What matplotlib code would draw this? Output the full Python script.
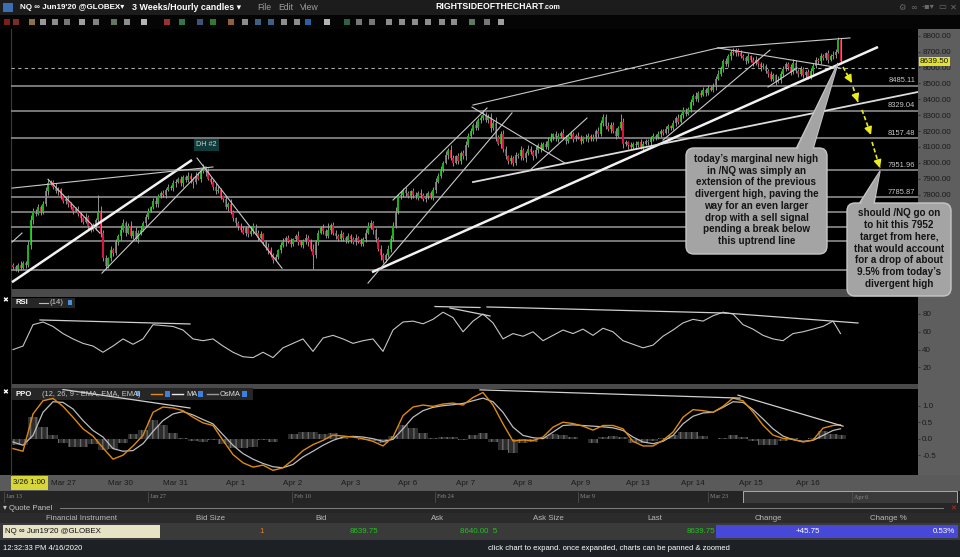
import numpy as np
import matplotlib.pyplot as plt
from matplotlib.patches import Rectangle, FancyBboxPatch, Polygon

plt.rcParams['font.family'] = ['Liberation Sans', 'DejaVu Sans']

# hourly NQ candles, 3/26 1:00 -> 4/16 noon (closes)
closes = [
    7345, 7330, 7360, 7340, 7370, 7355, 7480, 7640,
    7700, 7680, 7720, 7690, 7740, 7820, 7870, 7880,
    7850, 7820, 7835, 7790, 7760, 7775, 7740, 7720, 7700, 7710, 7680, 7650, 7630, 7660, 7600, 7580,
    7600, 7640, 7690, 7560, 7400, 7350,
    7400, 7450, 7430, 7500, 7540, 7580, 7620, 7560, 7600,
    7540, 7570, 7520, 7560, 7580, 7620, 7660, 7700,
    7720, 7760, 7740, 7790, 7810, 7800, 7830, 7850, 7840, 7870,
    7880, 7900, 7870, 7910, 7890, 7920, 7900, 7880,
    7920, 7900, 7950, 7970, 7940, 7900,
    7880, 7850, 7820, 7830, 7790, 7770, 7720, 7740, 7690, 7650, 7620, 7600, 7580,
    7560, 7590, 7550, 7570, 7600, 7560, 7530, 7550, 7500, 7470, 7450,
    7420, 7390, 7410, 7450,
    7480, 7500, 7530, 7510, 7490, 7520, 7540, 7500, 7480, 7510, 7530, 7500, 7460,
    7420,
    7500, 7560, 7590, 7570, 7540, 7580, 7610, 7560,
    7540, 7520, 7550, 7530, 7510, 7540, 7520, 7500, 7530, 7510, 7490, 7520, 7560, 7600,
    7620, 7580, 7520, 7460, 7420, 7390, 7420, 7460,
    7520, 7600, 7700, 7790,
    7800, 7830, 7810, 7790, 7820, 7800, 7780, 7810, 7800, 7770, 7790, 7810, 7780,
    7830, 7880, 7920, 7960, 8000, 8050, 8080,
    8030, 8000, 8040, 8010, 8060, 8040, 8110, 8170,
    8200, 8240, 8220, 8270, 8280, 8300, 8270, 8290,
    8220, 8250, 8160, 8120, 8180, 8090, 8040, 8010, 8030, 8000,
    8050, 8040, 8080, 8030, 8060, 8090, 8070, 8040, 8080, 8110, 8090, 8120, 8100, 8140,
    8160, 8180, 8150, 8170, 8190, 8160, 8140, 8170, 8180, 8150, 8170, 8160, 8140,
    8160, 8150, 8170, 8150, 8160, 8200, 8180,
    8250, 8290, 8230, 8210, 8240, 8200, 8170, 8220, 8260, 8120,
    8130, 8110, 8100, 8120, 8110, 8130, 8100, 8120, 8140, 8130,
    8150, 8170, 8160, 8180, 8200, 8190, 8210, 8230, 8220,
    8250, 8280, 8260, 8300, 8330, 8310, 8340,
    8380, 8420, 8400, 8440, 8430, 8460, 8440, 8470, 8460, 8480,
    8530, 8560, 8590, 8640, 8620, 8670,
    8700, 8690, 8710, 8690, 8670,
    8660, 8640, 8670, 8650, 8630, 8650, 8620, 8600,
    8610, 8580, 8560, 8530, 8550, 8510, 8520, 8560,
    8590, 8620, 8600, 8570, 8630, 8580, 8560, 8590,
    8550, 8570, 8540, 8580, 8610,
    8650, 8640, 8670, 8660, 8690, 8650, 8670, 8680, 8700,
    8770, 8639.5,
]
first_open = 7360
wick_up = [
    10, 15, 8, 20, 12, 10, 25, 30, 15, 10, 20, 12, 18, 25, 30, 15, 10, 20, 12, 8,
    15, 10, 20, 12, 8, 15, 20, 10, 12, 25, 10, 15, 20, 10, 110, 40, 15, 20, 10, 25,
    12, 20, 15, 30, 25, 15, 20, 35, 10, 25, 15, 20, 12, 18, 15, 10, 20, 25, 12, 15,
    20, 10, 15, 12, 25, 18, 10, 20, 15, 12, 20, 15, 10, 25, 20, 15, 20, 12, 30, 10,
    15, 20, 25, 12, 10, 20, 15, 30, 12, 10, 15, 20, 25, 15, 10, 30, 20, 12, 15, 20,
    10, 15, 25, 20, 12, 15, 10, 20, 25, 12, 15, 20, 10, 15, 30, 12, 10, 25, 15, 20,
    30, 15, 20, 10, 25, 15, 40, 12, 20, 15, 10, 25, 15, 12, 20, 10, 15, 25, 12, 20,
    15, 25, 30, 20, 12, 10, 15, 20, 10, 15, 20, 25, 30, 20, 15, 25, 10, 20, 15, 12,
    20, 15, 10, 25, 12, 20, 15, 10, 20, 25, 15, 20, 12, 25, 15, 30, 20, 12, 25, 15,
    20, 25, 15, 20, 12, 25, 15, 20, 30, 20, 15, 25, 20, 40, 15, 20, 25, 15, 10, 20,
    15, 20, 10, 25, 15, 12, 20, 15, 10, 25, 15, 20, 12, 15, 20, 25, 10, 20, 15, 12,
    20, 15, 10, 20, 15, 12, 25, 15, 10, 20, 15, 12, 20, 15, 25, 20, 20, 15, 25, 20,
    15, 20, 10, 50, 20, 15, 10, 20, 12, 15, 10, 20, 15, 12, 10, 20, 15, 10, 20, 15,
    12, 20, 15, 10, 20, 15, 25, 12, 20, 15, 10, 20, 15, 25, 12, 20, 15, 10, 20, 15,
    20, 15, 25, 20, 15, 20, 15, 12, 20, 15, 10, 20, 15, 12, 20, 10, 15, 20, 12, 15,
    20, 15, 10, 20, 15, 12, 25, 15, 20, 12, 15, 20, 25, 15, 10, 20, 15, 12, 20, 15,
    20, 15, 12, 20, 15, 10, 20, 15, 25, 15, 20, 15, 0, 0, 0, 0, 0, 0, 0, 0,
]
wick_dn = [
    15, 10, 20, 12, 10, 15, 10, 20, 25, 15, 10, 20, 15, 10, 20, 12, 15, 10, 20, 15,
    10, 20, 15, 12, 20, 10, 15, 20, 12, 10, 20, 15, 10, 20, 15, 25, 20, 15, 10, 20,
    15, 10, 20, 25, 15, 20, 10, 15, 20, 10, 25, 15, 10, 20, 15, 12, 10, 20, 15, 10,
    15, 20, 10, 12, 15, 20, 10, 15, 20, 12, 10, 25, 40, 15, 10, 20, 15, 25, 10, 15,
    20, 15, 10, 20, 15, 12, 20, 10, 15, 20, 25, 15, 10, 20, 15, 12, 20, 15, 25, 10,
    15, 20, 25, 15, 20, 10, 15, 20, 10, 25, 15, 20, 12, 15, 20, 10, 15, 20, 25, 15,
    90, 20, 15, 10, 20, 15, 10, 25, 15, 20, 10, 15, 20, 12, 15, 25, 10, 20, 15, 12,
    15, 20, 10, 15, 25, 20, 15, 30, 20, 15, 10, 20, 15, 10, 20, 15, 12, 20, 10, 15,
    20, 10, 15, 20, 12, 15, 20, 10, 15, 20, 10, 15, 20, 10, 25, 15, 20, 10, 15, 20,
    15, 20, 10, 15, 20, 12, 15, 20, 10, 15, 20, 25, 15, 20, 10, 25, 20, 15, 20, 15,
    20, 15, 10, 20, 15, 25, 10, 15, 20, 12, 15, 20, 10, 15, 20, 12, 15, 10, 20, 15,
    10, 20, 15, 12, 20, 15, 10, 20, 15, 12, 20, 15, 10, 20, 15, 12, 20, 15, 10, 20,
    15, 20, 10, 15, 25, 15, 20, 10, 15, 20, 12, 15, 20, 10, 15, 20, 12, 15, 10, 20,
    15, 10, 20, 15, 12, 20, 15, 10, 20, 15, 12, 20, 15, 10, 20, 15, 12, 20, 15, 10,
    15, 20, 10, 15, 20, 12, 15, 20, 10, 15, 20, 12, 15, 20, 10, 15, 20, 12, 15, 20,
    10, 15, 20, 12, 15, 20, 10, 15, 20, 12, 15, 20, 10, 15, 20, 12, 15, 20, 10, 15,
    20, 12, 15, 20, 10, 15, 20, 12, 15, 20, 10, 15, 0, 0, 0, 0, 0, 0, 0, 0,
]

level_prices = [8485.11, 8329.04, 8157.48, 7951.96, 7785.87]
plain_levels = [7688, 7595, 7508, 7326]
dashed_level = 8598
last_price = 8639.50
price_ticks = [7800, 7900, 8000, 8100, 8200, 8300, 8400, 8500, 8600, 8700, 8800]

day_pos = [20, 43, 65, 89, 112, 135, 158, 181, 204, 227, 250, 272, 295, 318]
day_labels = ['Mar 27', 'Mar 30', 'Mar 31', 'Apr 1', 'Apr 2', 'Apr 3', 'Apr 6',
              'Apr 7', 'Apr 8', 'Apr 9', 'Apr 13', 'Apr 14', 'Apr 15', 'Apr 16']

# indicators, read every 4th candle plus the last one
rsi = [40, 44, 68, 71, 66, 58, 52, 47, 44, 37,
       44, 52, 46, 52, 68, 67, 66, 62, 52, 50,
       52, 44, 37, 32, 31, 37, 31, 42, 47, 52,
       38, 53, 56, 52, 47, 50, 52, 38, 62, 71,
       72, 69, 74, 82, 76, 60, 72, 80, 70, 52,
       58, 55, 60, 50, 56, 62, 58, 63, 56, 64,
       60, 50, 46, 42, 45, 55, 62, 70, 74, 72,
       78, 82, 80, 68, 63, 56, 52, 50, 58, 60,
       63, 66, 72, 58]
ppo = [-0.30, -0.38, 0.75, 1.15, 1.22, 0.98, 0.65, 0.30, 0.08, -0.28,
       -0.62, -0.50, -0.22, 0.10, 0.80, 0.96, 0.93, 0.85, 0.65, 0.48,
       0.40, -0.05, -0.48, -0.73, -0.86, -0.80, -0.96, -0.88, -0.64, -0.36,
       -0.18, -0.05, 0.11, 0.08, 0.05, 0.00, -0.08, -0.22, 0.05, 0.70,
       0.96, 1.02, 0.98, 1.05, 1.08, 1.02, 1.25, 1.40, 1.02, 0.45,
       -0.07, -0.04, -0.06, 0.05, 0.35, 0.50, 0.46, 0.38, 0.26, 0.40,
       0.40, 0.30, -0.08, -0.22, -0.22, -0.05, 0.20, 0.65, 0.88, 0.85,
       0.80, 0.98, 1.23, 1.15, 0.81, 0.41, 0.11, 0.01, -0.02, -0.10,
       -0.04, 0.32, 0.40, 0.42]
ppo_ma = [-0.10, -0.20, 0.10, 0.80, 1.12, 1.10, 0.90, 0.55, 0.25, 0.05,
          -0.30, -0.38, -0.36, -0.15, 0.22, 0.55, 0.75, 0.82, 0.72, 0.58,
          0.45, 0.12, -0.20, -0.45, -0.62, -0.75, -0.85, -0.88, -0.78, -0.55,
          -0.38, -0.20, -0.05, 0.05, 0.07, 0.05, 0.00, -0.08, -0.02, 0.30,
          0.65, 0.85, 0.95, 1.00, 1.03, 1.07, 1.15, 1.23, 1.12, 0.80,
          0.35, 0.10, 0.03, 0.00, 0.20, 0.40, 0.42, 0.40, 0.38, 0.36,
          0.33, 0.25, 0.05, -0.10, -0.15, -0.08, 0.10, 0.45, 0.68, 0.78,
          0.80, 0.95, 1.12, 1.10, 0.88, 0.60, 0.30, 0.08, -0.03, -0.08,
          -0.05, 0.10, 0.25, 0.30]

# hand-drawn trendlines (candle index, value)
thick_lines = [(-0.4, 7249, 71.6, 8018), (143.6, 7312, 346, 8729)]
medium_lines = [(184, 7879, 362, 8446)]
thin_lines = [(-0.4, 7841, 80, 7974), (14, 7897, 34.8, 7557), (35.6, 7306, 76.8, 7974),
              (73.6, 8030, 107.6, 7337), (-0.4, 7501, 3.6, 7558), (142, 7243, 199.6, 8314),
              (152, 7766, 189.6, 8345), (184, 8364, 282, 8723), (183.6, 8351, 220.8, 7998),
              (206.8, 7954, 229.6, 8282), (260, 8143, 302.8, 8710), (282, 8723, 330.8, 8597),
              (302, 8477, 313.6, 8597), (282, 8723, 334.8, 8786)]
rsi_lines = [(10.8, 73.3, 70.8, 68.8), (168.8, 88.4, 186.8, 87.3), (174.8, 86.7, 190.8, 77.8),
             (189.6, 87.9, 284.8, 81.1), (284.8, 81.1, 338, 69.9)]
ppo_lines = [(20, 1.49, 70.8, 0.93), (186.8, 1.48, 290.8, 1.23), (290, 1.32, 332, 0.38)]
target_arrows = [(332, 8603, 335.6, 8502), (336, 8477, 338, 8383),
                 (339.6, 8333, 343.2, 8175), (343.6, 8131, 346.8, 7967)]

note1 = ("today\u2019s marginal new high\nin /NQ was simply an\nextension of the previous\n"
         "divergent high, paving the\nway for an even larger\ndrop with a sell signal\n"
         "pending a break below\nthis uptrend line")
note2 = ("should /NQ go on\nto hit this 7952\ntarget from here,\nthat would account\n"
         "for a drop of about\n9.5% from today\u2019s\ndivergent high")

W, H = 960, 557
fig = plt.figure(figsize=(9.6, 5.57), dpi=100, facecolor='#000000')


def px_axes(x0, y0, x1, y1):
    return fig.add_axes([x0 / W, 1 - y1 / H, (x1 - x0) / W, (y1 - y0) / H])


# ---- window chrome (pixel coords) ----
bg = px_axes(0, 0, W, H)
bg.set_xlim(0, W)
bg.set_ylim(H, 0)
bg.axis('off')


def rect(x0, y0, x1, y1, fc, **kw):
    bg.add_patch(Rectangle((x0, y0), x1 - x0, y1 - y0, fc=fc, ec=kw.pop('ec', 'none'), **kw))


def label(x, y, s, **kw):
    kw.setdefault('va', 'center')
    kw.setdefault('color', '#ffffff')
    kw.setdefault('fontsize', 6)
    bg.text(x, y, s, **kw)


rect(0, 0, W, 15, '#1c1c1c')
rect(0, 15, W, 29, '#050505')
rect(3, 3, 13, 12, '#3b6fb0')
label(20, 7.5, "NQ \u221e Jun19'20 @GLOBEX\u25be", fontweight='bold', fontsize=5.8)
label(132, 7.5, "3 Weeks/Hourly candles \u25be", fontweight='bold', fontsize=6.4)
for x, s in [(257, 'File'), (278, 'Edit'), (300, 'View')]:
    label(x, 7.5, s, color='#9c9c9c', fontsize=6.2)
label(435, 6.8, 'RIGHTSIDEOFTHECHART', fontweight='bold', fontsize=6.3)
label(544, 7.5, '.com', fontweight='bold', fontsize=5.2)
for x, s in [(898, '\u2699'), (910, '\u221e'), (922, '-\u25aa\u25be'), (938, '\u25ad'), (950, '\u2715')]:
    label(x, 7, s, color='#6a6a6a', fontsize=6, family='DejaVu Sans')
tool_icons = [(4, '#b02a2a'), (13, '#b03a3a'), (29, '#c8a070'), (40, '#d8d8d8'), (52, '#c8c8c8'),
              (64, '#a8a8a8'), (79, '#e0e0e0'), (93, '#b8b8b8'), (111, '#8aa88a'), (124, '#c8c8c8'),
              (141, '#ffffff'), (164, '#d84444'), (179, '#44aa66'), (197, '#5577aa'), (210, '#44aa44'),
              (228, '#cc8855'), (242, '#c8c8c8'), (255, '#5588bb'), (268, '#5588bb'), (281, '#c8c8c8'),
              (294, '#c8c8c8'), (305, '#3388ee'), (324, '#ffffff'), (344, '#448866'), (356, '#a8a8a8'),
              (369, '#a8a8a8'), (386, '#c8c8c8'), (399, '#c8c8c8'), (412, '#c8c8c8'), (425, '#c8c8c8'),
              (439, '#c8c8c8'), (451, '#c8c8c8'), (469, '#88aa88'), (484, '#a8a8a8'), (498, '#e0e0e0')]
for x, c in tool_icons:
    rect(x, 19, x + 6, 25, c, alpha=0.7)

rect(0, 29, 11, 475, '#000000')
bg.plot([10.5, 10.5], [29, 475], color='#3a3a3a', lw=0.8)
rect(11, 289, W, 297, '#4a4a4a')
rect(11, 384, W, 389, '#4a4a4a')
rect(918, 29, W, 475, '#5e5e5e')
rect(0, 475, W, 491, '#5a5a5a')
rect(11, 476, 48, 490, '#d6d63a')
label(13, 483, '3/26 1:00', color='#111111', fontsize=5.6)
label(5, 300, '\u2716', fontsize=5, ha='center', family='DejaVu Sans')
label(5, 392, '\u2716', fontsize=5, ha='center', family='DejaVu Sans')

# indicator headers
rect(12, 298, 75, 308, '#262626')
label(16, 303, 'RSI', fontweight='bold', fontsize=5.6)
bg.plot([39, 48], [303, 303], color='#bdbdbd', lw=0.8)
label(50, 303, '(14)', color='#cfcfcf', fontsize=5.6)
rect(68, 300, 72, 305, '#4a90d9')
rect(12, 388, 253, 400, '#262626')
label(16, 394, 'PPO', fontweight='bold', fontsize=5.6)
label(42, 394, '(12, 26, 9 - EMA, EMA, EMA)', color='#c8c8c8', fontsize=5.4)
rect(136, 391, 140, 396, '#4a90d9')
bg.plot([151, 162], [394, 394], color='#e08c1a', lw=1)
bg.plot([172, 183], [394, 394], color='#e8e8e8', lw=1)
bg.plot([207, 218], [394, 394], color='#9a9a9a', lw=1)
for x in (165, 198, 242):
    rect(x, 391, x + 5, 397, '#3d7fd9')
label(186, 394, 'MA', color='#e0e0e0', fontsize=5.4)
label(220, 394, 'OsMA', color='#e0e0e0', fontsize=5.4)
rect(194, 139, 219, 151, '#0f3b3b')
label(206.5, 145, 'DH #2', color='#d0d0d0', fontsize=5.2, ha='center')

# navigator strip
rect(0, 491, W, 503, '#242424')
rect(743, 491, 957, 503, '#3a3a3a', ec='#bdbdbd', lw=0.6)
for x, s in [(6, 'Jan 13'), (150, 'Jan 27'), (294, 'Feb 10'), (437, 'Feb 24'),
             (580, 'Mar 9'), (710, 'Mar 23'), (854, 'Apr 6')]:
    bg.plot([x - 2, x - 2], [492, 502], color='#555555', lw=0.5)
    label(x, 497, s, color='#8a8a8a', fontsize=4.4, family='Liberation Serif')

# quote panel
rect(0, 503, W, 513, '#262626')
label(3, 508, '\u25be Quote Panel', color='#c4c4c4', fontsize=5.6)
bg.plot([60, 943], [508, 508], color='#8c8c8c', lw=0.6)
label(950, 508, '\u2715', color='#c03030', fontsize=5, family='DejaVu Sans')
rect(0, 513, W, 523, '#2b2b2b')
for x, s in [(81, 'Financial Instrument'), (211, 'Bid Size'), (321, 'Bid'), (438, 'Ask'),
             (548, 'Ask Size'), (655, 'Last'), (768, 'Change'), (888, 'Change %')]:
    label(x, 518, s, color='#b8b8b8', fontsize=5.7, ha='center')
rect(0, 523, W, 540, '#3a3a3a')
rect(3, 525, 160, 538, '#e6e2c4')
rect(716, 525, 958, 538, '#4848d8')
label(5, 531.5, "NQ \u221e Jun19'20 @GLOBEX", color='#111111', fontsize=5.7)
label(259, 531.5, '1', color='#d9822b', fontsize=5.7)
label(378, 531.5, '8639.75', color='#22c322', fontsize=5.7, ha='right')
label(460, 531.5, '8640.00  5', color='#22c322', fontsize=5.7)
label(715, 531.5, '8639.75', color='#22c322', fontsize=5.7, ha='right')
label(820, 531.5, '+45.75', fontsize=5.7, ha='right')
label(955, 531.5, '0.53%', fontsize=5.7, ha='right')
rect(0, 540, W, H, '#1d2125')
label(3, 549, '12:32:33 PM 4/16/2020', fontsize=5.5)
label(609, 549, 'click chart to expand. once expanded, charts can be panned & zoomed',
      fontsize=5.5, ha='center')

# ---- price panel ----
n = len(closes)
idx = np.arange(n)
c = np.array(closes, dtype=float)
o = np.r_[first_open, c[:-1]]
hi = np.maximum(o, c) + np.array(wick_up[:n])
lo = np.minimum(o, c) - np.array(wick_dn[:n])
up = c >= o
body = np.where(np.abs(c - o) < 5, 5, c - o)

xlim = (-0.8, 362)
ax = px_axes(11, 30, 918, 289)
ax.set_facecolor('none')
ax.set_xlim(*xlim)
ax.set_ylim(7206, 8836)

for v in level_prices + plain_levels:
    ax.axhline(v, color='#8c8c8c', lw=1.2, zorder=1)
ax.axhline(dashed_level, color='#a8a8a8', lw=0.8, ls=(0, (3, 3)), zorder=1)
for v in level_prices:
    ax.text(0.997, v + 8, f'{v:.2f}', transform=ax.get_yaxis_transform(), ha='right',
            va='bottom', color='#c8c8c8', fontsize=5.4)

ax.vlines(idx, lo, hi, color='#a8a8a8', lw=0.6, zorder=2)
ax.bar(idx[up], body[up], bottom=o[up], width=0.75, color='#18b418', zorder=3)
ax.bar(idx[~up], body[~up], bottom=o[~up], width=0.75, color='#dc1240', zorder=3)

for x0, y0, x1, y1 in thick_lines:
    ax.plot([x0, x1], [y0, y1], color='#f2f2f2', lw=1.8, zorder=4, solid_capstyle='butt')
for x0, y0, x1, y1 in medium_lines:
    ax.plot([x0, x1], [y0, y1], color='#dcdcdc', lw=1.3, zorder=4)
for x0, y0, x1, y1 in thin_lines:
    ax.plot([x0, x1], [y0, y1], color='#c8c8c8', lw=0.8, zorder=4)

for x0, y0, x1, y1 in target_arrows:
    ax.plot([x0, x1], [y0, y1], color='#ecec1a', lw=1.2, ls=(0, (2.5, 1.5)), zorder=5)
    ax.annotate('', xy=(x1, y1), xytext=(x0 + 0.7 * (x1 - x0), y0 + 0.7 * (y1 - y0)),
                arrowprops=dict(arrowstyle='-|>,head_length=0.45,head_width=0.22',
                                color='#ecec1a', lw=1.2, shrinkA=0, shrinkB=0), zorder=5)

ax.yaxis.tick_right()
ax.set_yticks(price_ticks)
ax.yaxis.set_major_formatter(plt.FormatStrFormatter('%.2f'))
ax.tick_params(axis='y', colors='#333333', labelcolor='#1b1b1b', labelsize=5.8, length=1.5, pad=1.5)
ax.set_xticks([])
for s in ax.spines.values():
    s.set_visible(False)
ax.text(1.002, last_price, f'{last_price:.2f}', transform=ax.get_yaxis_transform(), ha='left',
        va='center', color='#111111', fontsize=5.8, zorder=6,
        bbox=dict(boxstyle='square,pad=0.15', fc='#e3e32e', ec='none'))

# ---- RSI panel ----
ind_x = np.append(np.arange(0, 329, 4), 331)
ax2 = px_axes(11, 297, 918, 384)
ax2.set_facecolor('none')
ax2.set_xlim(*xlim)
ax2.set_ylim(1.35, 99.1)
ax2.plot(ind_x, rsi, color='#c6c6c6', lw=0.8)
for x0, y0, x1, y1 in rsi_lines:
    ax2.plot([x0, x1], [y0, y1], color='#d0d0d0', lw=0.9)
ax2.yaxis.tick_right()
ax2.set_yticks([20, 40, 60, 80])
ax2.tick_params(axis='y', colors='#333333', labelcolor='#1b1b1b', labelsize=5.8, length=1.5, pad=1.5)
ax2.set_xticks([])
for s in ax2.spines.values():
    s.set_visible(False)

# ---- PPO panel ----
ax3 = px_axes(11, 389, 918, 475)
ax3.set_facecolor('none')
ax3.set_xlim(*xlim)
ax3.set_ylim(-1.10, 1.506)
hist = np.array(ppo) - np.array(ppo_ma)
ax3.bar(ind_x, hist, width=4, color='#2c2c2c', edgecolor='#6a6a6a', lw=0, hatch='|||', zorder=1)
ax3.plot(ind_x, ppo_ma, color='#bdbdbd', lw=0.9, zorder=2)
ax3.plot(ind_x, ppo, color='#de8a12', lw=1.0, zorder=3)
for x0, y0, x1, y1 in ppo_lines:
    ax3.plot([x0, x1], [y0, y1], color='#d0d0d0', lw=0.9, zorder=4)
ax3.yaxis.tick_right()
ax3.set_yticks([-0.5, 0.0, 0.5, 1.0])
ax3.yaxis.set_major_formatter(plt.FormatStrFormatter('%.1f'))
ax3.tick_params(axis='y', colors='#333333', labelcolor='#1b1b1b', labelsize=5.8, length=1.5, pad=1.5)
ax3.set_xticks(day_pos)
ax3.set_xticklabels(day_labels)
ax3.tick_params(axis='x', length=0, pad=3.5, labelsize=5.8, labelcolor='#1b1b1b')
for s in ax3.spines.values():
    s.set_visible(False)

# ---- callouts on top ----
ov = px_axes(0, 0, W, H)
ov.set_xlim(0, W)
ov.set_ylim(H, 0)
ov.axis('off')
ov.patch.set_alpha(0)


def callout(x0, y0, x1, y1, base, tip, text, cx, cy):
    tri = [(base[0], y0 + 1), (base[1], y0 + 1), tip]
    ov.add_patch(Polygon(tri, closed=True, fc='#a4a4a4', ec='#c6c6c6', lw=1, zorder=1))
    ov.add_patch(FancyBboxPatch((x0, y0), x1 - x0, y1 - y0, boxstyle='round,pad=0,rounding_size=8',
                                fc='#a4a4a4', ec='#c6c6c6', lw=1, zorder=2))
    ov.add_patch(Polygon([(base[0] + 1, y0 + 3), (base[1] - 1, y0 + 3), tip], closed=True,
                         fc='#a4a4a4', ec='none', zorder=3))
    ov.text(cx, cy, text, ha='center', va='center', color='#141414', fontsize=7.1,
            fontweight='bold', linespacing=1.22, zorder=4)


callout(686, 148, 827, 254, (796, 813), (838, 63), note1, 756.5, 200)
callout(847, 203, 951, 296, (859, 874), (880, 171), note2, 899, 248.5)

fig.savefig('out.png', dpi=100, facecolor=fig.get_facecolor())
